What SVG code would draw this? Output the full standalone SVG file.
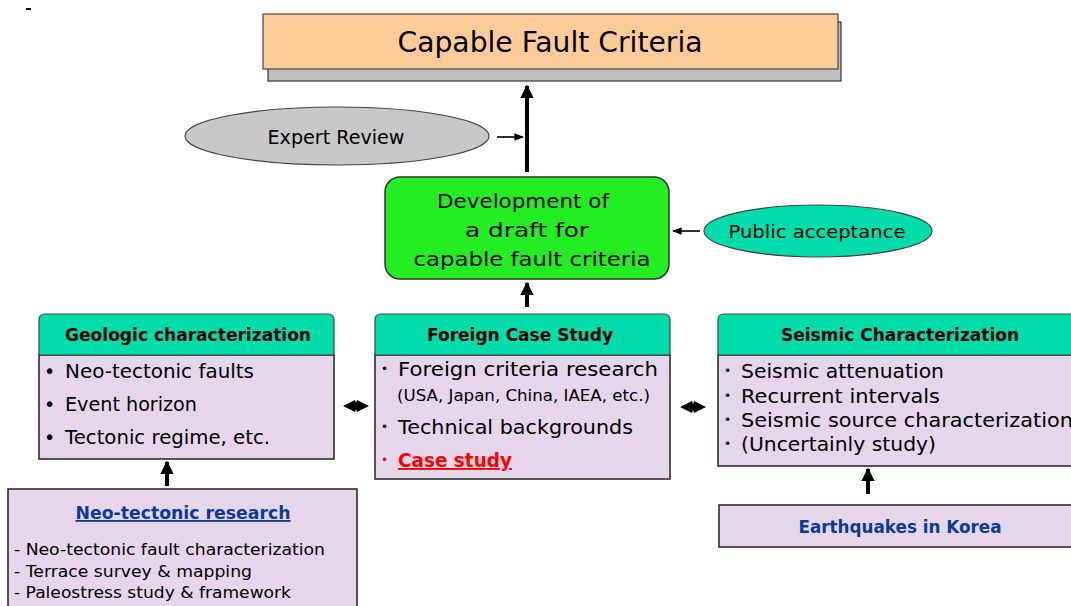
<svg xmlns="http://www.w3.org/2000/svg" width="1071" height="606" viewBox="0 0 1071 606">
<defs>
<style>
text{font-family:"DejaVu Sans","Liberation Sans",sans-serif;fill:#000}
.hdr{fill:#00DDAA;stroke:#444;stroke-width:1.2}
.body{fill:#E6D6EA;stroke:#222;stroke-width:1.5}
.h{font-size:18px;font-weight:bold;text-anchor:middle}
.b{font-size:19px}
.d{font-size:12px}
.s{font-size:16px}
.thick{stroke:#000;stroke-width:4;fill:none}
.thin{stroke:#000;stroke-width:1.6;fill:none}
.blue{fill:#0A3A9A;font-weight:bold;font-size:18px}
</style>
<marker id="hd" viewBox="0 0 10 10" refX="9" refY="5" markerWidth="3.4" markerHeight="3.4" orient="auto" markerUnits="strokeWidth">
<path d="M0,0 L10,5 L0,10 Z" fill="#000"/>
</marker>
<marker id="hs" viewBox="0 0 10 10" refX="9" refY="5" markerWidth="6" markerHeight="6" orient="auto" markerUnits="strokeWidth">
<path d="M0,1 L10,5 L0,9 Z" fill="#000"/>
</marker>
</defs>
<rect width="1071" height="606" fill="#fff"/>
<rect x="26" y="8" width="5" height="2" fill="#000"/>

<g id="title">
<rect x="268" y="22" width="573" height="59" fill="#C0C0C0" stroke="#333" stroke-width="1.2"/>
<rect x="263" y="14" width="575" height="55" fill="#FFCC99" stroke="#444" stroke-width="1.2"/>
<text x="550" y="52" font-size="28" text-anchor="middle" textLength="305" lengthAdjust="spacingAndGlyphs">Capable Fault Criteria</text>
</g>

<g id="expert-review">
<ellipse cx="337" cy="136" rx="152" ry="29" fill="#C8C8C8" stroke="#444" stroke-width="1.2"/>
<text x="336" y="144" font-size="19" text-anchor="middle" textLength="137" lengthAdjust="spacingAndGlyphs">Expert Review</text>
</g>

<g id="draft">
<rect x="385" y="177" width="284" height="102" rx="15" fill="#22EE22" stroke="#333" stroke-width="1.5"/>
<text x="523" y="208" font-size="20" text-anchor="middle" textLength="172" lengthAdjust="spacingAndGlyphs">Development of</text>
<text x="527" y="237" font-size="20" text-anchor="middle" textLength="124" lengthAdjust="spacingAndGlyphs">a draft for</text>
<text x="532" y="266" font-size="20" text-anchor="middle" textLength="237" lengthAdjust="spacingAndGlyphs">capable fault criteria</text>
</g>

<g id="public-acceptance">
<ellipse cx="818" cy="231" rx="114" ry="26" fill="#00DDAA" stroke="#444" stroke-width="1.2"/>
<text x="817" y="238" font-size="18" text-anchor="middle" textLength="177" lengthAdjust="spacingAndGlyphs">Public acceptance</text>
</g>

<g id="geologic">
<rect class="body" x="39" y="355" width="295" height="104"/>
<path class="hdr" d="M39,355 V320 Q39,314 45,314 H328 Q334,314 334,320 V355 Z"/>
<text class="h" x="188" y="341" textLength="246" lengthAdjust="spacingAndGlyphs">Geologic characterization</text>
<text class="b" x="44" y="378">•</text>
<text class="b" x="65" y="378" textLength="189" lengthAdjust="spacingAndGlyphs">Neo-tectonic faults</text>
<text class="b" x="44" y="411">•</text>
<text class="b" x="65" y="411" textLength="132" lengthAdjust="spacingAndGlyphs">Event horizon</text>
<text class="b" x="44" y="444">•</text>
<text class="b" x="65" y="444" textLength="205" lengthAdjust="spacingAndGlyphs">Tectonic regime, etc.</text>
</g>

<g id="foreign">
<rect class="body" x="375" y="355" width="295" height="124"/>
<path class="hdr" d="M375,355 V320 Q375,314 381,314 H664 Q670,314 670,320 V355 Z"/>
<text class="h" x="520" y="341" textLength="186" lengthAdjust="spacingAndGlyphs">Foreign Case Study</text>
<text class="d" x="381" y="373">•</text>
<text class="b" x="398" y="376" textLength="260" lengthAdjust="spacingAndGlyphs">Foreign criteria research</text>
<text x="397" y="401" font-size="15" textLength="253" lengthAdjust="spacingAndGlyphs">(USA, Japan, China, IAEA, etc.)</text>
<text class="d" x="381" y="431">•</text>
<text class="b" x="398" y="434" textLength="235" lengthAdjust="spacingAndGlyphs">Technical backgrounds</text>
<text class="d" x="381" y="464" style="fill:#FF0000">•</text>
<text class="b" x="398" y="467" font-weight="bold" text-decoration="underline" style="fill:#FF0000" textLength="114" lengthAdjust="spacingAndGlyphs">Case study</text>
</g>

<g id="seismic">
<rect class="body" x="718" y="355" width="362" height="111"/>
<path class="hdr" d="M718,355 V320 Q718,314 724,314 H1080 V355 Z"/>
<text class="h" x="900" y="341" textLength="238" lengthAdjust="spacingAndGlyphs">Seismic Characterization</text>
<text class="d" x="724" y="375">•</text>
<text class="b" x="741" y="378" textLength="203" lengthAdjust="spacingAndGlyphs">Seismic attenuation</text>
<text class="d" x="724" y="400">•</text>
<text class="b" x="741" y="403" textLength="199" lengthAdjust="spacingAndGlyphs">Recurrent intervals</text>
<text class="d" x="724" y="424">•</text>
<text class="b" x="741" y="427" textLength="332" lengthAdjust="spacingAndGlyphs">Seismic source characterization</text>
<text class="d" x="724" y="448">•</text>
<text class="b" x="741" y="451" textLength="195" lengthAdjust="spacingAndGlyphs">(Uncertainly study)</text>
</g>

<g id="neo-tectonic-research">
<rect class="body" x="8" y="489" width="349" height="125"/>
<text class="blue" x="183" y="519" text-anchor="middle" text-decoration="underline" textLength="215" lengthAdjust="spacingAndGlyphs">Neo-tectonic research</text>
<text class="s" x="14" y="555" textLength="311" lengthAdjust="spacingAndGlyphs">- Neo-tectonic fault characterization</text>
<text class="s" x="14" y="577" textLength="238" lengthAdjust="spacingAndGlyphs">- Terrace survey &amp; mapping</text>
<text class="s" x="14" y="598" textLength="277" lengthAdjust="spacingAndGlyphs">- Paleostress study &amp; framework</text>
</g>

<g id="earthquakes">
<rect class="body" x="719" y="505" width="361" height="42"/>
<text class="blue" x="900" y="533" text-anchor="middle" textLength="203" lengthAdjust="spacingAndGlyphs">Earthquakes in Korea</text>
</g>

<g id="connectors">
<line class="thick" x1="527" y1="172" x2="527" y2="86" marker-end="url(#hd)"/>
<line class="thin" x1="497" y1="137" x2="523" y2="137" marker-end="url(#hs)"/>
<line class="thin" x1="700" y1="231" x2="673" y2="231" marker-end="url(#hs)"/>
<line class="thick" x1="527" y1="307" x2="527" y2="283" marker-end="url(#hd)"/>
<line class="thick" x1="167" y1="486" x2="167" y2="462" marker-end="url(#hd)"/>
<line class="thick" x1="868" y1="494" x2="868" y2="469" marker-end="url(#hd)"/>
<path d="M343,406 L355,400 L356,403 L357,400 L369,406 L357,412 L356,409 L355,412 Z" fill="#000"/>
<path d="M680,407 L692,401 L693,404 L694,401 L706,407 L694,413 L693,410 L692,413 Z" fill="#000"/>
</g>
</svg>
